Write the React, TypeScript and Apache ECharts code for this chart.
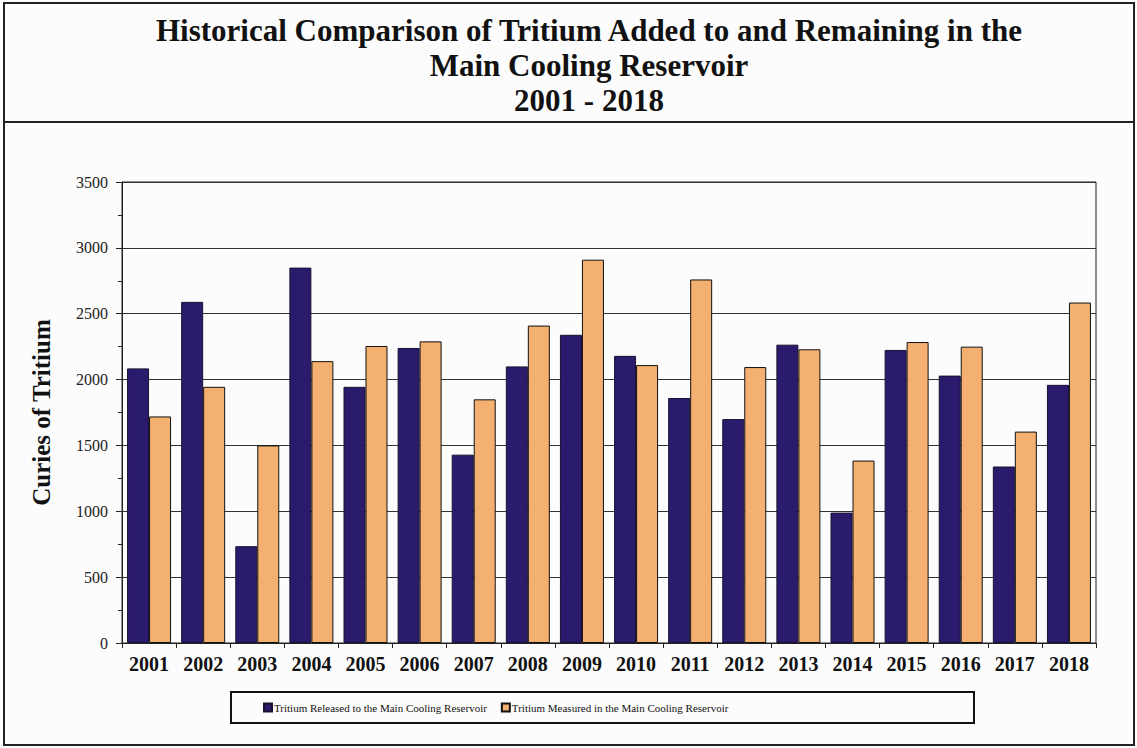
import React, { useEffect, useRef } from "react";
import * as echarts from "echarts";

const years = ["2001","2002","2003","2004","2005","2006","2007","2008","2009","2010","2011","2012","2013","2014","2015","2016","2017","2018"];
const released = [2085, 2590, 735, 2850, 1945, 2240, 1430, 2100, 2340, 2180, 1860, 1700, 2265, 990, 2225, 2030, 1340, 1960];
const measured = [1720, 1945, 1500, 2140, 2255, 2290, 1850, 2410, 2910, 2110, 2760, 2095, 2230, 1385, 2285, 2250, 1605, 2585];
const seriesNames = ["Tritium Released to the Main Cooling Reservoir", "Tritium Measured in the Main Cooling Reservoir"];
const titleText = "Historical Comparison of Tritium Added to and Remaining in the\nMain Cooling Reservoir\n2001 - 2018";
const yName = "Curies of Tritium";

const FONT = "'Liberation Serif', 'Times New Roman', serif";

export default function App() {
  const ref = useRef<HTMLDivElement>(null);
  useEffect(() => {
    if (!ref.current) return;
    const chart = echarts.init(ref.current, null, { renderer: "svg" });
    chart.setOption({
      animation: false,
      backgroundColor: "#fcfcfc",
      textStyle: { fontFamily: FONT },
      title: {
        text: titleText,
        left: 584,
        textAlign: "center",
        top: 8,
        textStyle: { fontFamily: FONT, fontSize: 31, fontWeight: "bold", color: "#111", lineHeight: 35 },
      },
      graphic: [
        { type: "rect", shape: { x: 4, y: 3, width: 1130, height: 742 }, style: { fill: "none", stroke: "#222", lineWidth: 2 }, silent: true },
        { type: "line", shape: { x1: 4, y1: 122, x2: 1134, y2: 122 }, style: { stroke: "#222", lineWidth: 2 }, silent: true },
        { type: "rect", shape: { x: 231, y: 692, width: 743, height: 31 }, style: { fill: "none", stroke: "#111", lineWidth: 2 }, silent: true },
      ],
      legend: {
        data: seriesNames,
        left: 258,
        top: 697,
        itemWidth: 8,
        itemHeight: 8,
        itemGap: 14,
        icon: "rect",
        textStyle: { fontFamily: FONT, fontSize: 11, color: "#111", padding: [0, 0, 0, -3] },
      },
      grid: { left: 122, right: 41, top: 182, bottom: 105, show: true, borderColor: "#222", borderWidth: 1, backgroundColor: "transparent" },
      xAxis: {
        type: "category",
        data: years,
        axisLine: { lineStyle: { color: "#222", width: 1 } },
        axisTick: { show: true, inside: false, length: 5, lineStyle: { color: "#222" } },
        axisLabel: { fontFamily: FONT, fontSize: 20, fontWeight: "bold", color: "#111", margin: 11 },
      },
      yAxis: {
        type: "value",
        min: 0,
        max: 3500,
        interval: 500,
        name: yName,
        nameLocation: "middle",
        nameGap: 68,
        nameTextStyle: { fontFamily: FONT, fontSize: 25, fontWeight: "bold", color: "#111" },
        axisLine: { show: true, lineStyle: { color: "#222" } },
        axisTick: { show: true, length: 6, lineStyle: { color: "#222" } },
        minorTick: { show: true, splitNumber: 2, length: 4, lineStyle: { color: "#222" } },
        axisLabel: { fontFamily: FONT, fontSize: 16, color: "#222", margin: 14, formatter: (v: number) => String(v) },
        splitLine: { show: true, lineStyle: { color: "#333", width: 1 } },
      },
      series: [
        {
          name: seriesNames[0],
          type: "bar",
          data: released,
          barWidth: 22,
          barGap: "0%",
          itemStyle: { color: "#2b1b6c", borderColor: "#1a1030", borderWidth: 1 },
        },
        {
          name: seriesNames[1],
          type: "bar",
          data: measured,
          barWidth: 22,
          barGap: "0%",
          itemStyle: { color: "#f3b071", borderColor: "#111", borderWidth: 1 },
        },
      ],
    });
    return () => chart.dispose();
  }, []);
  return <div ref={ref} style={{ position: "fixed", left: 0, top: 0, width: 1137, height: 748 }} />;
}
